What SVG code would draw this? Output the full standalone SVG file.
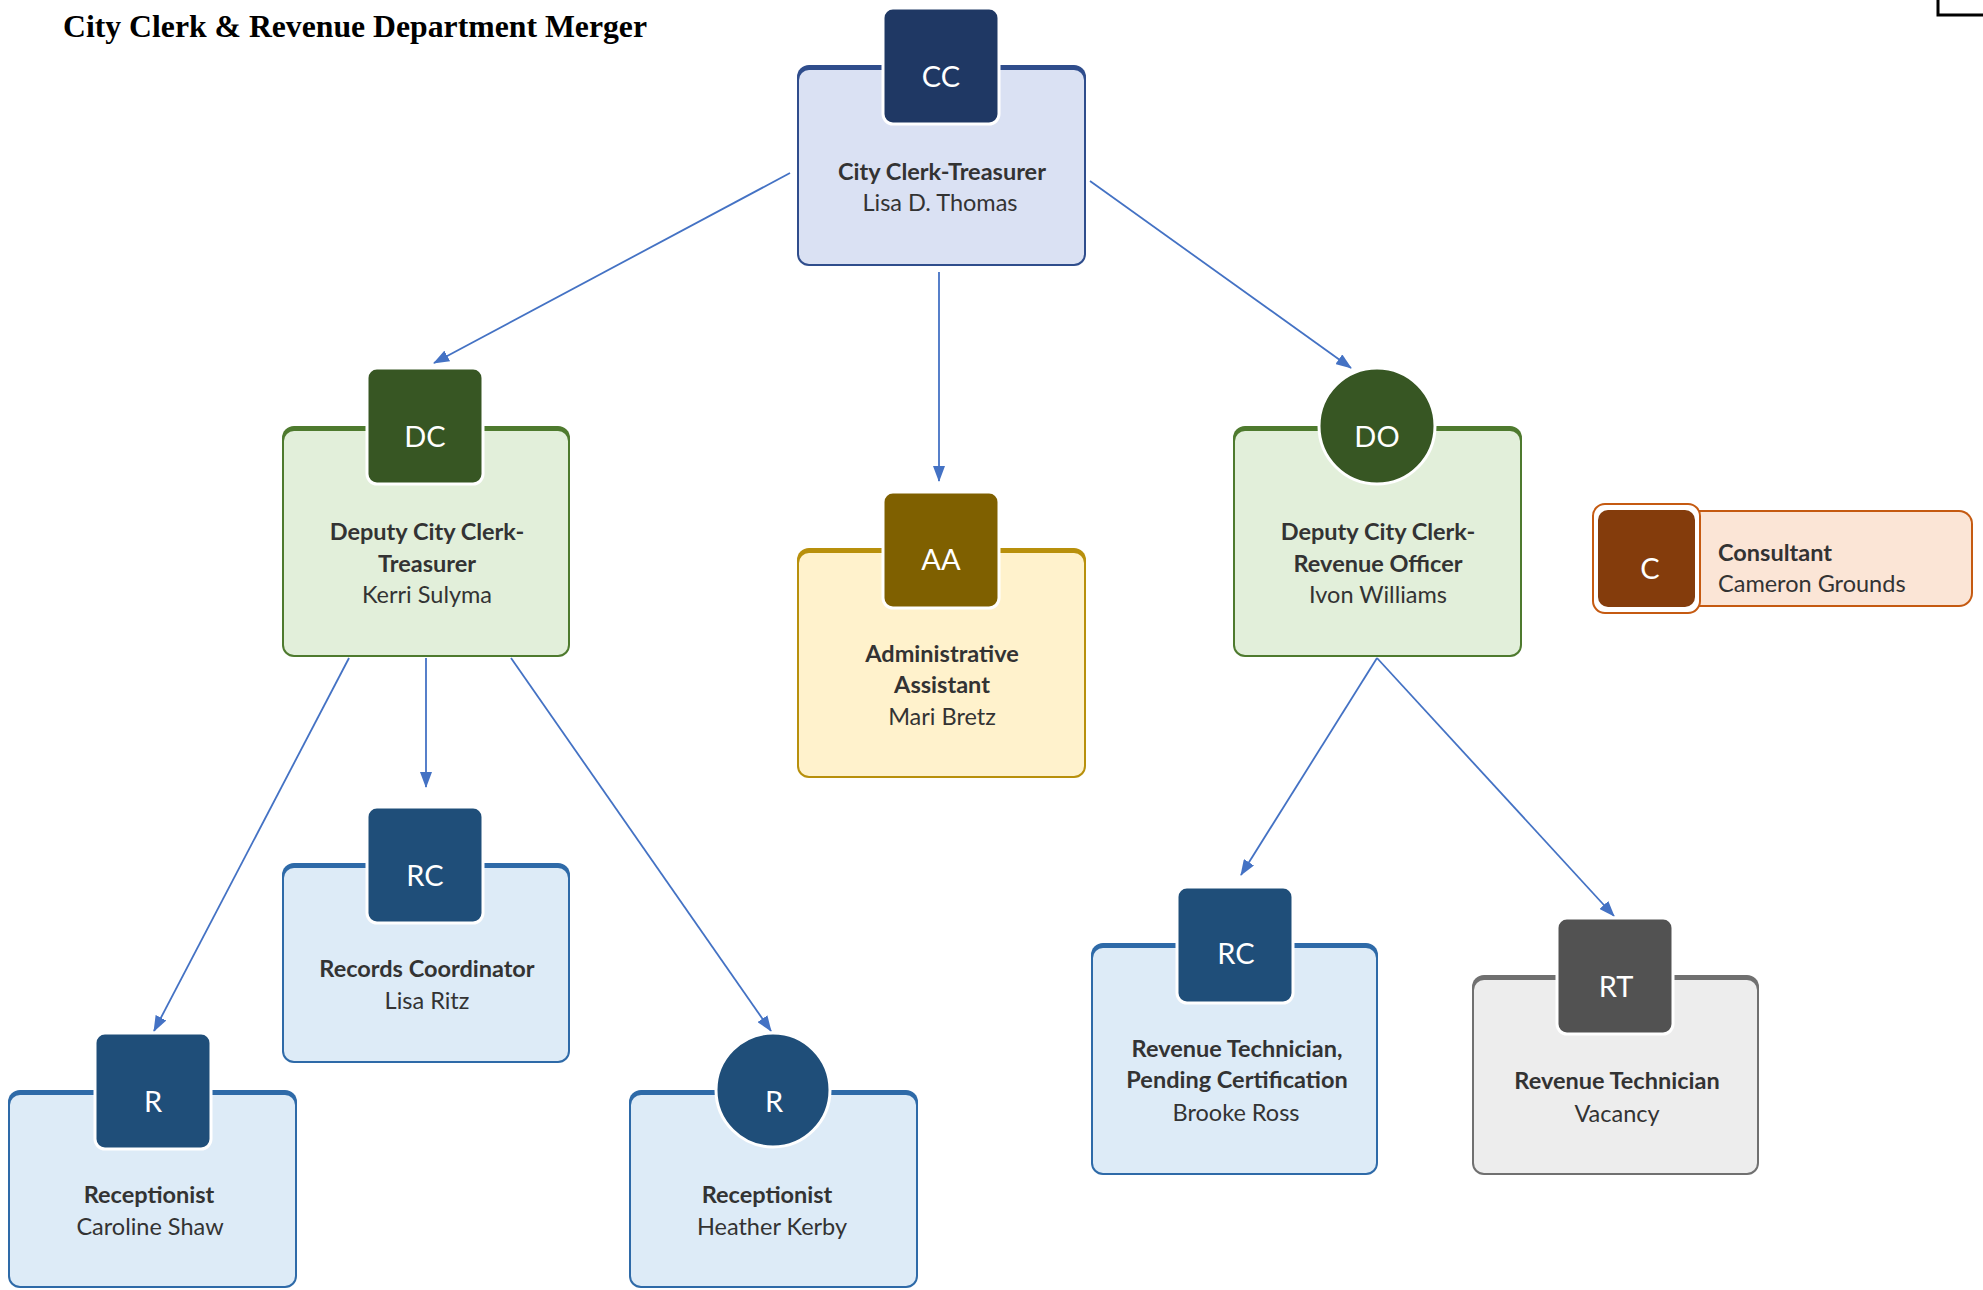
<svg xmlns="http://www.w3.org/2000/svg" width="1983" height="1290" viewBox="0 0 1983 1290">
<defs>
<marker id="ah" markerWidth="16" markerHeight="12" refX="15" refY="6" orient="auto" markerUnits="userSpaceOnUse">
<path d="M0,0 L16,6 L0,12 Z" fill="#4472C4"/>
</marker>
<style>
.t{font-family:Lato,"Open Sans",sans-serif;font-size:23.5px;fill:#333333;text-anchor:middle}
.tb{font-weight:bold}
.ic{font-family:Lato,"Open Sans",sans-serif;font-size:29px;fill:#ffffff;text-anchor:middle}
.conn line{stroke:#4472C4;stroke-width:1.8;fill:none;marker-end:url(#ah)}
.icon{stroke:#ffffff;stroke-width:3}
</style>
</defs>
<rect width="1983" height="1290" fill="#ffffff"/>
<text x="63" y="37" font-family="'Liberation Serif','Times New Roman',serif" font-weight="bold" font-size="31" textLength="584" lengthAdjust="spacingAndGlyphs" fill="#000">City Clerk &amp; Revenue Department Merger</text>
<path d="M1938,0 V15 H1983" fill="none" stroke="#000" stroke-width="3"/>

<g id="connectors" class="conn">
<line x1="790" y1="173" x2="434" y2="363"/>
<line x1="939" y1="272" x2="939" y2="481"/>
<line x1="1090" y1="181" x2="1351" y2="368"/>
<line x1="349" y1="658" x2="154" y2="1031"/>
<line x1="426" y1="658" x2="426" y2="787"/>
<line x1="511" y1="658" x2="771" y2="1031"/>
<line x1="1377" y1="658" x2="1241" y2="875"/>
<line x1="1377" y1="658" x2="1614" y2="916"/>
</g>

<g id="node-cc">
<rect x="797" y="65" width="289" height="201" rx="12" fill="#2F4D8C"/>
<rect x="799" y="70" width="285" height="194" rx="10" fill="#DAE1F3"/>
<rect class="icon" x="883" y="8" width="116" height="116" rx="10" fill="#1F3864"/>
<text class="ic" x="941" y="87">CC</text>
<text class="t tb" x="942" y="180">City Clerk-Treasurer</text>
<text class="t" x="940" y="211">Lisa D. Thomas</text>
</g>

<g id="node-dc">
<rect x="282" y="426" width="288" height="231" rx="12" fill="#4E7A2E"/>
<rect x="284" y="431" width="284" height="224" rx="10" fill="#E2EFDA"/>
<rect class="icon" x="367" y="368" width="116" height="116" rx="10" fill="#375623"/>
<text class="ic" x="425" y="447">DC</text>
<text class="t tb" x="427" y="540">Deputy City Clerk-</text>
<text class="t tb" x="427" y="572">Treasurer</text>
<text class="t" x="427" y="603">Kerri Sulyma</text>
</g>

<g id="node-aa">
<rect x="797" y="548" width="289" height="230" rx="12" fill="#B8900C"/>
<rect x="799" y="553" width="285" height="223" rx="10" fill="#FFF2CC"/>
<rect class="icon" x="883" y="492" width="116" height="116" rx="10" fill="#7F6000"/>
<text class="ic" x="941" y="570">AA</text>
<text class="t tb" x="942" y="662">Administrative</text>
<text class="t tb" x="942" y="693">Assistant</text>
<text class="t" x="942" y="725">Mari Bretz</text>
</g>

<g id="node-do">
<rect x="1233" y="426" width="289" height="231" rx="12" fill="#4E7A2E"/>
<rect x="1235" y="431" width="285" height="224" rx="10" fill="#E2EFDA"/>
<circle class="icon" cx="1377" cy="426" r="58" fill="#375623"/>
<text class="ic" x="1377" y="447">DO</text>
<text class="t tb" x="1378" y="540">Deputy City Clerk-</text>
<text class="t tb" x="1378" y="572">Revenue Officer</text>
<text class="t" x="1378" y="603">Ivon Williams</text>
</g>

<g id="node-consultant">
<rect x="1680" y="510" width="293" height="97" rx="14" fill="#C55A11"/>
<rect x="1682" y="512" width="289" height="93" rx="12" fill="#FBE5D6"/>
<rect x="1593" y="504" width="107" height="109" rx="12" fill="#ffffff" stroke="#C55A11" stroke-width="2"/>
<rect x="1598" y="510" width="97" height="97" rx="10" fill="#843C0C"/>
<text class="ic" x="1650" y="579">C</text>
<text class="t tb" x="1718" y="561" style="text-anchor:start">Consultant</text>
<text class="t" x="1718" y="592" style="text-anchor:start">Cameron Grounds</text>
</g>

<g id="node-rc1">
<rect x="282" y="863" width="288" height="200" rx="12" fill="#2E6AA8"/>
<rect x="284" y="868" width="284" height="193" rx="10" fill="#DDEBF7"/>
<rect class="icon" x="367" y="807" width="116" height="116" rx="10" fill="#1F4E79"/>
<text class="ic" x="425" y="886">RC</text>
<text class="t tb" x="427" y="977">Records Coordinator</text>
<text class="t" x="427" y="1009">Lisa Ritz</text>
</g>

<g id="node-r1">
<rect x="8" y="1090" width="289" height="198" rx="12" fill="#2E6AA8"/>
<rect x="10" y="1095" width="285" height="191" rx="10" fill="#DDEBF7"/>
<rect class="icon" x="95" y="1033" width="116" height="116" rx="10" fill="#1F4E79"/>
<text class="ic" x="153" y="1112">R</text>
<text class="t tb" x="149" y="1203">Receptionist</text>
<text class="t" x="150" y="1235">Caroline Shaw</text>
</g>

<g id="node-r2">
<rect x="629" y="1090" width="289" height="198" rx="12" fill="#2E6AA8"/>
<rect x="631" y="1095" width="285" height="191" rx="10" fill="#DDEBF7"/>
<circle class="icon" cx="773" cy="1090" r="57" fill="#1F4E79"/>
<text class="ic" x="774" y="1112">R</text>
<text class="t tb" x="767" y="1203">Receptionist</text>
<text class="t" x="772" y="1235">Heather Kerby</text>
</g>

<g id="node-rc2">
<rect x="1091" y="943" width="287" height="232" rx="12" fill="#2E6AA8"/>
<rect x="1093" y="948" width="283" height="225" rx="10" fill="#DDEBF7"/>
<rect class="icon" x="1177" y="887" width="116" height="116" rx="10" fill="#1F4E79"/>
<text class="ic" x="1236" y="964">RC</text>
<text class="t tb" x="1237" y="1057">Revenue Technician,</text>
<text class="t tb" x="1237" y="1088">Pending Certification</text>
<text class="t" x="1236" y="1121">Brooke Ross</text>
</g>

<g id="node-rt">
<rect x="1472" y="975" width="287" height="200" rx="12" fill="#707070"/>
<rect x="1474" y="980" width="283" height="193" rx="10" fill="#EDEDED"/>
<rect class="icon" x="1557" y="918" width="116" height="116" rx="10" fill="#525252"/>
<text class="ic" x="1616" y="997">RT</text>
<text class="t tb" x="1617" y="1089">Revenue Technician</text>
<text class="t" x="1617" y="1122">Vacancy</text>
</g>
</svg>
